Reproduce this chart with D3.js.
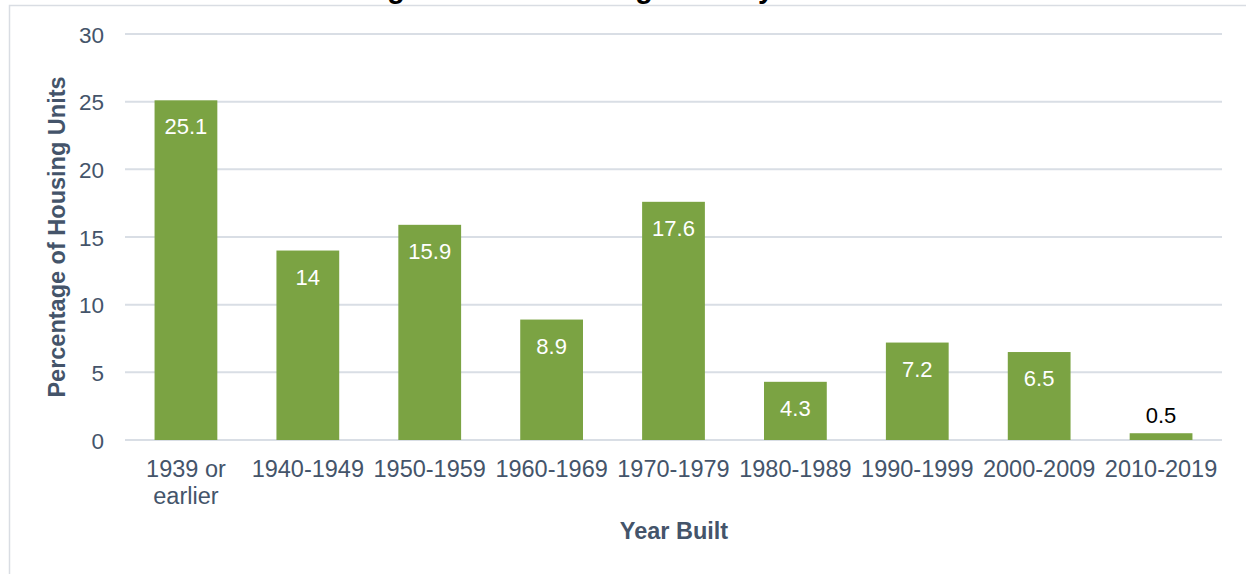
<!DOCTYPE html>
<html><head><meta charset="utf-8">
<script src="https://cdn.jsdelivr.net/npm/d3@7"></script>
<style>body{margin:0;background:#fff;} svg{display:block;font-family:"Liberation Sans",Arial,sans-serif;}</style>
</head><body>
<script>
const categories = ["1939 or earlier","1940-1949","1950-1959","1960-1969","1970-1979","1980-1989","1990-1999","2000-2009","2010-2019"];
const values = [25.1,14,15.9,8.9,17.6,4.3,7.2,6.5,0.5];
const yTicks = [0,5,10,15,20,25,30];
const titleText = "Percentage of Total Housing Units by Year Built";
const yTitle = "Percentage of Housing Units";
const xTitle = "Year Built";

const W=1246,H=574;
const svg=d3.select("body").append("svg").attr("width",W).attr("height",H);
const txt="#44546a";
svg.append("rect").attr("x",9.5).attr("y",5.5).attr("width",1250).attr("height",600)
  .attr("fill","#fff").attr("stroke","#d9dde3").attr("stroke-width",1.5);

// title sits mostly above the visible area, as in the reference
svg.append("text").attr("x",266).attr("y",-2).attr("font-size",28.7).attr("font-weight","bold")
  .attr("fill","#000").text(titleText);

const x=d3.scaleBand().domain(categories).range([125,1222]).paddingInner(0.485).paddingOuter(0.2425);
const y=d3.scaleLinear().domain([0,30]).range([440,34]);

svg.append("g").selectAll("line").data(yTicks).join("line")
  .attr("x1",125).attr("x2",1222).attr("y1",d=>y(d)).attr("y2",d=>y(d))
  .attr("stroke","#d9dee5").attr("stroke-width",2);

const yAxis=d3.axisLeft(y).tickValues(yTicks).tickSize(0).tickPadding(0);
const ga=svg.append("g").attr("transform","translate(104,0)").call(yAxis);
ga.select(".domain").remove();
ga.selectAll("text").attr("font-size",22.5).attr("fill",txt).attr("font-family","Liberation Sans, Arial, sans-serif").attr("dy","0.36em");

svg.append("g").selectAll("rect").data(values).join("rect")
  .attr("x",(d,i)=>x(categories[i])).attr("width",x.bandwidth())
  .attr("y",d=>y(d)).attr("height",d=>y(0)-y(d)).attr("fill","#7ba343");

svg.append("g").selectAll("text").data(values).join("text")
  .attr("x",(d,i)=>x(categories[i])+x.bandwidth()/2)
  .attr("y",d=>d<2?y(d)-10:y(d)+34)
  .attr("text-anchor","middle").attr("font-size",22)
  .attr("fill",d=>d<2?"#000":"#fff").text(d=>d);

const xl=svg.append("g");
categories.forEach(c=>{
  const cx=x(c)+x.bandwidth()/2;
  const parts=c==="1939 or earlier"?["1939 or","earlier"]:[c];
  parts.forEach((p,j)=>{
    xl.append("text").attr("x",cx).attr("y",477+j*27).attr("text-anchor","middle")
      .attr("font-size",23.5).attr("fill",txt).text(p);
  });
});

svg.append("text").attr("x",674).attr("y",539).attr("text-anchor","middle")
  .attr("font-size",23.5).attr("font-weight","bold").attr("fill",txt).text(xTitle);
svg.append("text").attr("transform","translate(65,237) rotate(-90)").attr("text-anchor","middle")
  .attr("font-size",23.5).attr("font-weight","bold").attr("fill",txt).text(yTitle);
</script>
</body></html>
